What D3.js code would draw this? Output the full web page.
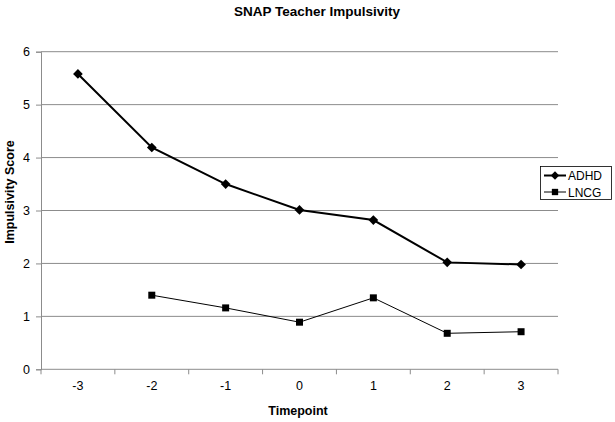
<!DOCTYPE html>
<html><head><meta charset="utf-8">
<script src="https://cdn.jsdelivr.net/npm/d3@7"></script>
<style>body{margin:0;background:#fff}svg{display:block;font-family:Arial,"Liberation Sans",sans-serif}</style>
</head><body>
<svg id="c" width="615" height="422"></svg>
<script>
const categories = ["-3","-2","-1","0","1","2","3"];
const adhd = [5.58, 4.19, 3.50, 3.01, 2.82, 2.02, 1.98];
const lncg = [null, 1.40, 1.16, 0.89, 1.35, 0.68, 0.71];
const yTicks = [0,1,2,3,4,5,6];
const seriesNames = ["ADHD","LNCG"];

const svg = d3.select("#c");
const L = 41, R = 558, T = 51.7, B = 369.3;
const x = d3.scaleBand().domain(categories).range([L, R]);
const y = d3.scaleLinear().domain([0, 6]).range([B, T]);

svg.append("text").attr("x", 317).attr("y", 16).attr("text-anchor","middle")
  .attr("font-size", 13.5).attr("font-weight","bold").text("SNAP Teacher Impulsivity");

// gridlines
svg.append("g").selectAll("line").data(yTicks.filter(d=>d>0)).join("line")
  .attr("x1", L).attr("x2", R).attr("y1", d=>y(d)).attr("y2", d=>y(d))
  .attr("stroke", "#8c8c8c").attr("stroke-width", 1);

// y axis
const ya = svg.append("g").attr("transform", `translate(${L},0)`)
  .call(d3.axisLeft(y).tickValues(yTicks).tickSize(5).tickPadding(6).tickFormat(d3.format("d")));
ya.select(".domain").attr("stroke","#8c8c8c");
ya.selectAll(".tick line").attr("stroke","#8c8c8c");
ya.selectAll("text").attr("font-size", 12.5).attr("fill","#000").attr("font-family","Arial");

// x axis
const xa = svg.append("g").attr("transform", `translate(0,${B})`)
  .call(d3.axisBottom(x).tickSize(0).tickPadding(12));
xa.select(".domain").attr("stroke","#8c8c8c").attr("d", `M${L},0H${R}`);
xa.selectAll("text").attr("font-size", 12.5).attr("fill","#000").attr("font-family","Arial");
// boundary ticks between categories
const bounds = categories.map(c => x(c)).concat([R]);
svg.append("g").selectAll("line").data(bounds).join("line")
  .attr("x1", d=>d).attr("x2", d=>d).attr("y1", B).attr("y2", B+5)
  .attr("stroke","#8c8c8c");

svg.append("text").attr("x", 298).attr("y", 415).attr("text-anchor","middle")
  .attr("font-size", 12.5).attr("font-weight","bold").text("Timepoint");
svg.append("text").attr("transform","translate(14,192) rotate(-90)").attr("text-anchor","middle")
  .attr("font-size", 12.5).attr("font-weight","bold").text("Impulsivity Score");

const cx = c => x(c) + x.bandwidth()/2;
const line = d3.line().defined(d => d[1] != null).x(d => cx(d[0])).y(d => y(d[1]));

const ad = categories.map((c,i)=>[c, adhd[i]]);
const ln = categories.map((c,i)=>[c, lncg[i]]).filter(d=>d[1]!=null);

svg.append("path").attr("d", line(ad)).attr("fill","none").attr("stroke","#000").attr("stroke-width",2);
svg.append("path").attr("d", line(ln)).attr("fill","none").attr("stroke","#000").attr("stroke-width",1);

const diamond = d3.symbol().type(d3.symbolDiamond2).size(60);
const square = d3.symbol().type(d3.symbolSquare).size(49);
svg.append("g").selectAll("path").data(ad).join("path")
  .attr("transform", d=>`translate(${cx(d[0])},${y(d[1])})`).attr("d", diamond()).attr("fill","#000");
svg.append("g").selectAll("path").data(ln).join("path")
  .attr("transform", d=>`translate(${cx(d[0])},${y(d[1])})`).attr("d", square()).attr("fill","#000");

// legend
const lg = svg.append("g");
lg.append("rect").attr("x", 540.5).attr("y", 166.5).attr("width", 71).attr("height", 33)
  .attr("fill","#fff").attr("stroke","#000").attr("stroke-width",0.8);
const rows = [{n: seriesNames[0], sym: diamond, w: 2, y: 175.5}, {n: seriesNames[1], sym: square, w: 1, y: 192}];
rows.forEach(r => {
  lg.append("line").attr("x1", 544).attr("x2", 566).attr("y1", r.y).attr("y2", r.y).attr("stroke","#000").attr("stroke-width", r.w);
  lg.append("path").attr("transform", `translate(555,${r.y})`).attr("d", r.sym.size(r.w===2?45:40)()).attr("fill","#000");
  lg.append("text").attr("x", 568).attr("y", r.y+4.5).attr("font-size", 12).text(r.n);
});
</script>
</body></html>
